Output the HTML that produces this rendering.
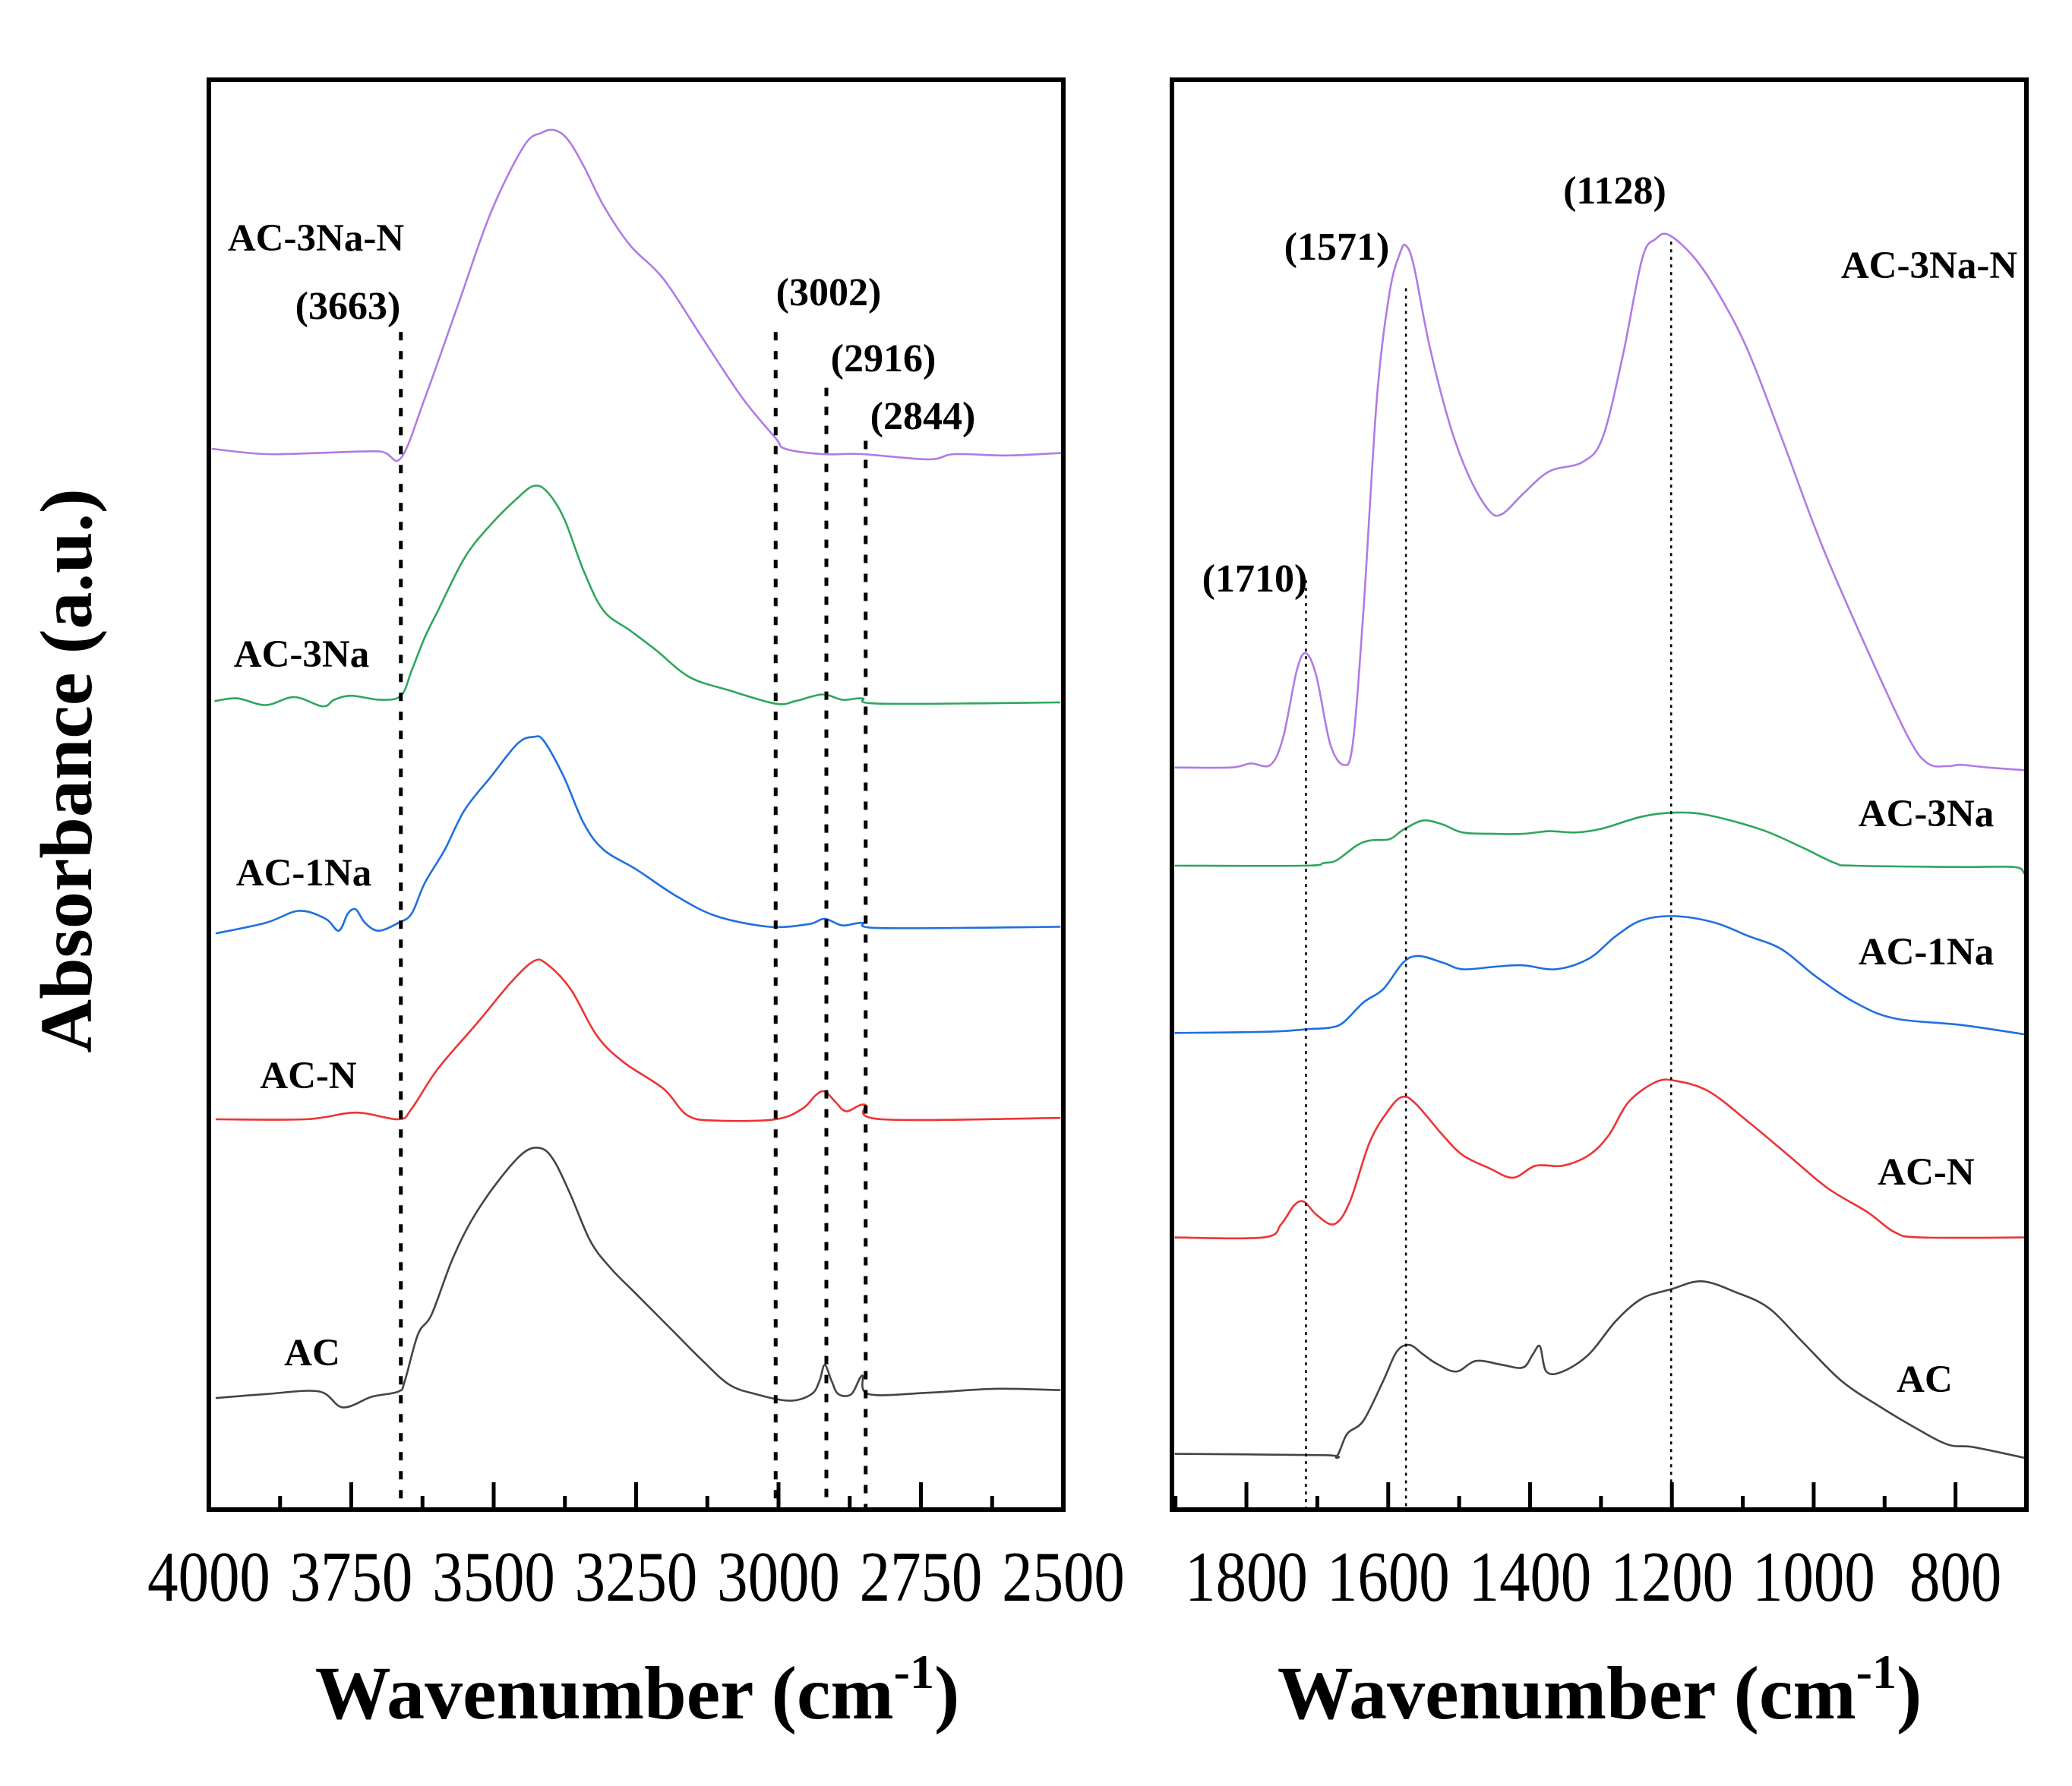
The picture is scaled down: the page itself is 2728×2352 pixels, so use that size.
<!DOCTYPE html>
<html><head><meta charset="utf-8"><style>
html,body{margin:0;padding:0;background:#fff}
svg{display:block}
text{font-family:"Liberation Serif",serif}
</style></head>
<body>
<svg id="chart" width="2728" height="2352" viewBox="0 0 2728 2352" xmlns="http://www.w3.org/2000/svg">
<rect x="0" y="0" width="2728" height="2352" fill="#fff"/>
<g id="left"></g>
<g id="right"></g>
<text x="0" y="0" transform="translate(120,1015) rotate(-90)" text-anchor="middle" font-weight="bold" font-size="98">Absorbance (a.u.)</text>
<text x="839" y="2263" text-anchor="middle" font-weight="bold" font-size="100">Wavenumber (cm<tspan dy="-40" font-size="64">-1</tspan><tspan dy="40">)</tspan></text>
<text x="2106" y="2263" text-anchor="middle" font-weight="bold" font-size="100">Wavenumber (cm<tspan dy="-40" font-size="64">-1</tspan><tspan dy="40">)</tspan></text>
</svg>
<script>
// ---------- data: left panel (4000-2500 cm-1) ----------
const L_purple_w=[3995,3900,3800,3700,3663,3621,3563,3505,3447,3416,3393,3370,3342,3307,3260,3202,3133,3063,3005,2988,2923,2853,2737,2691,2598,2500];
const L_purple_v=[7.99,7.95,7.96,7.97,7.92,8.37,9.07,9.77,10.27,10.37,10.39,10.32,10.12,9.82,9.52,9.27,8.82,8.37,8.07,7.99,7.95,7.95,7.91,7.95,7.94,7.96];
const L_green_w=[3990,3950,3900,3850,3800,3780,3750,3700,3663,3644,3621,3598,3551,3505,3458,3430,3407,3377,3342,3307,3260,3214,3156,3086,3005,2970,2923,2888,2853,2819,2505];
const L_green_v=[6.09,6.11,6.06,6.12,6.05,6.10,6.13,6.10,6.13,6.32,6.57,6.77,7.17,7.42,7.62,7.71,7.67,7.47,7.07,6.77,6.62,6.47,6.27,6.17,6.07,6.09,6.14,6.10,6.11,6.07,6.08];
const L_blue_w=[3988,3900,3842,3795,3772,3756,3742,3726,3702,3667,3644,3621,3586,3551,3505,3458,3430,3412,3377,3342,3307,3249,3179,3109,3016,2947,2919,2888,2853,2819,2505];
const L_blue_v=[4.34,4.42,4.51,4.45,4.36,4.49,4.52,4.42,4.36,4.42,4.49,4.72,4.97,5.27,5.52,5.77,5.82,5.79,5.52,5.17,4.97,4.82,4.62,4.47,4.39,4.41,4.45,4.40,4.42,4.38,4.39];
const L_red_w=[3988,3830,3742,3667,3644,3598,3528,3470,3430,3407,3365,3319,3272,3202,3160,3109,3005,2958,2935,2919,2900,2881,2849,2819,2505];
const L_red_v=[2.94,2.94,2.99,2.94,3.02,3.32,3.67,3.97,4.13,4.11,3.92,3.57,3.37,3.17,2.97,2.93,2.94,3.02,3.12,3.15,3.07,3.00,3.05,2.94,2.95];
const L_black_w=[3988,3900,3807,3765,3714,3667,3656,3633,3609,3574,3540,3493,3447,3416,3393,3365,3330,3295,3249,3191,3133,3086,3040,2981,2942,2928,2919,2907,2895,2872,2853,2842,2737,2621,2505];
const L_black_v=[0.84,0.87,0.89,0.77,0.85,0.89,0.97,1.32,1.47,1.87,2.17,2.47,2.69,2.72,2.62,2.37,2.02,1.82,1.62,1.37,1.12,0.94,0.87,0.82,0.87,0.97,1.09,0.97,0.87,0.87,1.01,0.87,0.88,0.91,0.90];
const L_marker_w=[3663,3005,2916,2847];
const L_marker_top=[8.87,8.87,8.45,8.05];
const L_marker_label=["(3663)","(3002)","(2916)","(2844)"];
const L_ticks=[4000,3750,3500,3250,3000,2750,2500];

// ---------- data: right panel (1905-700 cm-1) ----------
const R_purple_w=[1901,1822,1794,1766,1748,1729,1716,1701,1682,1663,1650,1635,1616,1598,1583,1575,1564,1542,1513,1485,1457,1439,1410,1373,1326,1298,1270,1242,1223,1204,1167,1130,1092,1045,989,924,867,839,811,792,755,703];
const R_purple_v=[5.59,5.59,5.62,5.61,5.82,6.32,6.45,6.27,5.77,5.61,5.77,6.77,8.37,9.17,9.47,9.52,9.37,8.77,8.17,7.77,7.52,7.50,7.65,7.82,7.89,8.07,8.67,9.42,9.57,9.60,9.42,9.12,8.72,8.07,7.27,6.47,5.82,5.62,5.60,5.61,5.59,5.57];
const R_green_w=[1901,1719,1691,1673,1645,1626,1598,1579,1551,1523,1495,1448,1410,1373,1336,1298,1242,1195,1148,1073,1017,970,942,792,717,703];
const R_green_v=[4.85,4.85,4.87,4.89,5.00,5.04,5.05,5.12,5.19,5.16,5.10,5.09,5.09,5.11,5.10,5.13,5.22,5.25,5.23,5.12,4.99,4.87,4.85,4.84,4.84,4.79];
const R_blue_w=[1901,1766,1710,1682,1663,1635,1607,1579,1557,1523,1495,1448,1410,1364,1317,1279,1242,1195,1139,1092,1045,998,942,886,792,703];
const R_blue_v=[3.59,3.60,3.62,3.63,3.67,3.82,3.92,4.12,4.17,4.12,4.07,4.09,4.10,4.07,4.15,4.32,4.44,4.47,4.42,4.32,4.22,4.02,3.82,3.70,3.65,3.58];
const R_red_w=[1901,1776,1751,1733,1719,1701,1676,1654,1626,1598,1579,1560,1523,1495,1457,1424,1392,1354,1317,1289,1261,1223,1195,1148,1092,1036,980,924,886,849,703];
const R_red_v=[2.05,2.05,2.15,2.29,2.32,2.22,2.15,2.32,2.77,3.02,3.11,3.05,2.82,2.67,2.57,2.50,2.59,2.59,2.67,2.82,3.07,3.22,3.23,3.15,2.92,2.67,2.42,2.24,2.09,2.05,2.05];
const R_black_w=[1901,1691,1673,1658,1635,1607,1588,1570,1551,1532,1504,1476,1439,1410,1396,1386,1377,1354,1317,1279,1242,1201,1158,1111,1064,1017,961,905,858,811,774,703];
const R_black_v=[0.42,0.41,0.40,0.57,0.67,0.97,1.19,1.24,1.17,1.10,1.04,1.12,1.09,1.07,1.17,1.23,1.04,1.04,1.17,1.42,1.59,1.66,1.72,1.64,1.52,1.27,0.97,0.77,0.62,0.49,0.47,0.39];
const R_marker_w=[1716,1575,1201];
const R_marker_top=[7.0,9.2,9.55];
const R_marker_label=["(1710)","(1571)","(1128)"];
const R_ticks=[1800,1600,1400,1200,1000,800];

const NS="http://www.w3.org/2000/svg";
const YB=1988, YT=105, VMAX=10.77;
function yScale(v){return YB-(v/VMAX)*(YB-YT);}
function mk(tag,attrs,parent){const e=document.createElementNS(NS,tag);for(const k in attrs)e.setAttribute(k,attrs[k]);parent.appendChild(e);return e;}
function smoothPath(pts){
  let d='M'+pts[0][0].toFixed(1)+','+pts[0][1].toFixed(1);
  for(let i=0;i<pts.length-1;i++){
    const p0=pts[i-1]||pts[i],p1=pts[i],p2=pts[i+1],p3=pts[i+2]||p2;
    const c1=[p1[0]+(p2[0]-p0[0])/6,p1[1]+(p2[1]-p0[1])/6];
    const c2=[p2[0]-(p3[0]-p1[0])/6,p2[1]-(p3[1]-p1[1])/6];
    d+='C'+c1[0].toFixed(1)+','+c1[1].toFixed(1)+' '+c2[0].toFixed(1)+','+c2[1].toFixed(1)+' '+p2[0].toFixed(1)+','+p2[1].toFixed(1);
  }
  return d;
}

function panel(g,x0,x1,wA,wB,name,series,ticks,minorStep,majorStep,markers,markerTop,markerLabels,markerStyle,labelPos,labelSeries,markerLabelPos){
  const xs=w=>x0+(wA-w)/(wA-wB)*(x1-x0);
  series.forEach(s=>{
    const pts=s.w.map((w,i)=>[xs(w),yScale(s.v[i])]);
    const p=mk('path',{d:smoothPath(pts),fill:'none',stroke:s.c,'stroke-width':2.6,'stroke-linejoin':'round'},g);
    
    
  });
  markers.forEach((w,i)=>{
    const l=mk('line',{x1:xs(w),x2:xs(w),y1:yScale(markerTop[i]),y2:YB,stroke:'#000','stroke-width':markerStyle.w,'stroke-dasharray':markerStyle.d},g);
    
    
    const t=mk('text',{x:markerLabelPos[i][0],y:markerLabelPos[i][1],'text-anchor':'middle','font-weight':'bold','font-size':52},g);
    t.textContent=markerLabels[i];
    
    
  });
  labelSeries.forEach((lab,i)=>{
    const t=mk('text',{x:labelPos[i][0],y:labelPos[i][1],'text-anchor':'middle','font-weight':'bold','font-size':51},g);
    t.textContent=lab;
    
    
  });
  const lo=Math.min(wA,wB),hi=Math.max(wA,wB);
  for(let w=Math.ceil(lo/minorStep)*minorStep;w<=hi;w+=minorStep){
    const major=(w%majorStep===0);
    const tk=mk('line',{x1:xs(w),x2:xs(w),y1:YB,y2:YB-(major?36:18),stroke:'#000','stroke-width':5},g);
    
    
  }
  ticks.forEach(w=>{
    const t=mk('text',{x:0,y:0,transform:'translate('+xs(w).toFixed(1)+',2108) scale(0.86,1)','text-anchor':'middle','font-size':94},g);
    t.textContent=String(w);
    
    
  });
  const fr=mk('rect',{x:x0,y:YT,width:x1-x0,height:YB-YT,fill:'none',stroke:'#000','stroke-width':6},g);
  
  
}

const labels=["AC-3Na-N","AC-3Na","AC-1Na","AC-N","AC"];
panel(document.getElementById('left'),275,1400,4000,2500,'left',[
  {n:'ac-3na-n',w:L_purple_w,v:L_purple_v,c:'#b07ae6'},
  {n:'ac-3na',w:L_green_w,v:L_green_v,c:'#2fa65c'},
  {n:'ac-1na',w:L_blue_w,v:L_blue_v,c:'#1f6fe0'},
  {n:'ac-n',w:L_red_w,v:L_red_v,c:'#ee3333'},
  {n:'ac',w:L_black_w,v:L_black_v,c:'#444'}],
  L_ticks,125,250,L_marker_w,L_marker_top,L_marker_label,{w:5,d:'11 14'},
  [[416,330],[397,878],[400,1166],[406,1433],[411,1798]],labels,
  [[458,420],[1091,402],[1163,489],[1215,565]]);
panel(document.getElementById('right'),1543,2668,1905,700,'right',[
  {n:'ac-3na-n',w:R_purple_w,v:R_purple_v,c:'#b07ae6'},
  {n:'ac-3na',w:R_green_w,v:R_green_v,c:'#2fa65c'},
  {n:'ac-1na',w:R_blue_w,v:R_blue_v,c:'#1f6fe0'},
  {n:'ac-n',w:R_red_w,v:R_red_v,c:'#ee3333'},
  {n:'ac',w:R_black_w,v:R_black_v,c:'#444'}],
  R_ticks,100,200,R_marker_w,R_marker_top,R_marker_label,{w:2.5,d:'4 6'},
  [[2540,366],[2536,1088],[2536,1270],[2536,1560],[2534,1833]],labels,
  [[1652,779],[1760,342],[2126,268]]);
</script>
</body></html>
